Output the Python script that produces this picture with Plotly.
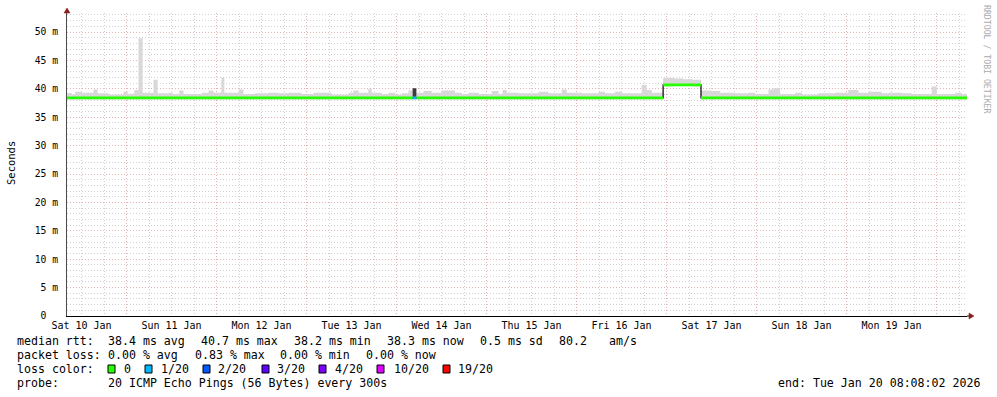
import plotly.graph_objects as go
import pandas as pd

# ---------------- data ----------------
day0 = pd.Timestamp("2026-01-10 00:00:00")
start_time = pd.Timestamp("2026-01-10 08:08:02")
end_time = pd.Timestamp("2026-01-20 08:08:02")

day_labels = ["Sat 10 Jan", "Sun 11 Jan", "Mon 12 Jan", "Tue 13 Jan", "Wed 14 Jan",
              "Thu 15 Jan", "Fri 16 Jan", "Sat 17 Jan", "Sun 18 Jan", "Mon 19 Jan"]
day_label_times = ["2026-01-10 12:00", "2026-01-11 12:00", "2026-01-12 12:00",
                   "2026-01-13 12:00", "2026-01-14 12:00", "2026-01-15 12:00",
                   "2026-01-16 12:00", "2026-01-17 12:00", "2026-01-18 12:00",
                   "2026-01-19 12:00"]

y_tick_values = [0, 5, 10, 15, 20, 25, 30, 35, 40, 45, 50]
y_tick_labels = ["0\u00a0\u00a0", "5 m", "10 m", "15 m", "20 m", "25 m",
                 "30 m", "35 m", "40 m", "45 m", "50 m"]

# smoke (spread of pings), step segments: start hour since Sat 10 Jan 00:00, low, high (ms)
smoke_hours = [8.0, 9.4, 10.3, 12.1, 15.2, 16.3, 19.2, 23.2, 24.3, 26.1, 27.2, 28.3,
               31.2, 32.3, 35.2, 36.3, 38.1, 39.2, 44.1, 45.9, 47.2, 49.3, 50.1, 53.9,
               55.2, 58.3, 61.9, 64.5, 67.2, 70.7, 73.9, 78.7, 83.2, 84.5, 85.9, 88.5,
               89.4, 92.1, 93.9, 95.7, 97.4, 99.2, 100.3, 101.3, 103.2, 105.4, 108.1,
               111.6, 113.4, 115.2, 117.9, 121.4, 123.2, 124.3, 125.4, 128.5, 133.9,
               136.5, 140.1, 141.4, 145.4, 149.9, 151.6, 154.3, 156.1, 161.4, 162.7,
               164.1, 167.1, 170.0, 172.5, 175.0, 177.2, 180.0, 182.3, 186.3, 189.9,
               191.6, 195.2, 196.5, 198.3, 202.3, 204.1, 208.5, 213.0, 216.5, 219.2,
               221.9, 225.4, 227.2, 230.7, 233.4, 238.7, 240.1, 245.0, 246.7]
smoke_high = [39.26, 39.0, 39.5, 39.3, 39.9, 39.2, 39.0, 39.5, 39.15, 39.8, 48.9, 39.3,
              41.6, 39.2, 39.3, 39.1, 39.7, 39.1, 39.3, 39.7, 39.3, 42.0, 39.3, 39.9,
              39.1, 39.2, 39.3, 39.2, 39.3, 39.1, 39.3, 39.0, 39.3, 39.7, 39.3, 40.0,
              39.3, 39.1, 39.3, 39.0, 39.2, 39.7, 40.1, 39.3, 39.6, 39.3, 39.7,
              39.3, 39.1, 39.3, 39.1, 39.6, 39.1, 39.8, 39.3, 39.2, 39.5,
              39.2, 39.9, 39.3, 39.2, 39.5, 39.2, 39.5, 39.2, 40.7, 39.8,
              39.3, 41.9, 41.8, 41.7, 41.6, 39.7, 39.6, 39.3, 39.2, 39.3,
              39.1, 39.9, 40.1, 39.1, 39.3, 39.0, 39.2, 39.3, 39.8, 39.3,
              39.5, 39.2, 39.3, 39.2, 39.1, 40.4, 39.1, 39.3, 39.1]
smoke_low = [38.1] * 68 + [40.4, 40.5, 40.5, 40.4] + [38.1] * 24

# dense smoke block (dark) around the 1/20 loss sample
dark_hours = [100.3, 101.3]
dark_low = 38.6
dark_high = 40.1

# median rtt step segments: start hour, value (ms), loss level index
median_hours = [8.0, 100.3, 101.3, 167.1, 177.2]
median_values = [38.4, 38.4, 38.4, 40.7, 38.4]
median_loss = [0, 1, 0, 0, 0]

loss_labels = ["0", "1/20", "2/20", "3/20", "4/20", "10/20", "19/20"]
loss_colors = ["#26ff00", "#00b8ff", "#0059ff", "#5e00ff", "#7e00ff", "#dd00ff", "#ff0000"]

stats_median = ["38.4 ms avg", "40.7 ms max", "38.2 ms min", "38.3 ms now", "0.5 ms sd", "80.2", "am/s"]
stats_loss = ["0.00 % avg", "0.83 % max", "0.00 % min", "0.00 % now"]
probe_text = "20 ICMP Echo Pings (56 Bytes) every 300s"
end_text = "end: Tue Jan 20 08:08:02 2026"

# ---------------- layout helpers ----------------
W, H = 997, 397
PL, PT, PW, PH = 67, 13, 900, 303
MONO = "DejaVu Sans Mono"


def px(x):
    return (x - PL) / PW


def py(y):
    return (PT + PH - y) / PH


def t(h):
    return day0 + pd.Timedelta(hours=h)


fig = go.Figure()

# smoke
sx = [t(h) for h in smoke_hours] + [end_time]
fig.add_trace(go.Scatter(x=sx, y=smoke_low + [smoke_low[-1]], mode="lines",
                         line=dict(width=0, shape="hv", color="rgba(0,0,0,0)"),
                         hoverinfo="skip", showlegend=False))
fig.add_trace(go.Scatter(x=sx, y=smoke_high + [smoke_high[-1]], mode="lines",
                         line=dict(width=0, shape="hv", color="rgba(0,0,0,0)"),
                         fill="tonexty", fillcolor="#d8d8d8",
                         hoverinfo="skip", showlegend=False))

# dark smoke block
fig.add_trace(go.Scatter(x=[t(dark_hours[0]), t(dark_hours[1]), t(dark_hours[1]), t(dark_hours[0]), t(dark_hours[0])],
                         y=[dark_low, dark_low, dark_high, dark_high, dark_low],
                         mode="lines", fill="toself", fillcolor="#3c3c3c",
                         line=dict(width=0, color="#3c3c3c"),
                         hoverinfo="skip", showlegend=False))

# median: black step connector
mx = [t(h) for h in median_hours] + [end_time]
fig.add_trace(go.Scatter(x=mx, y=median_values + [median_values[-1]], mode="lines",
                         line=dict(width=1.2, shape="hv", color="#000000"),
                         hoverinfo="skip", showlegend=False))

# median: coloured horizontal segments by loss level
for lvl, col in enumerate(loss_colors):
    xs, ys = [], []
    for i, h in enumerate(median_hours):
        if median_loss[i] != lvl:
            continue
        h_end = mx[i + 1]
        xs += [t(h), h_end, None]
        ys += [median_values[i], median_values[i], None]
    if xs:
        fig.add_trace(go.Scatter(x=xs, y=ys, mode="lines",
                                 line=dict(width=2.6, color=col),
                                 hoverinfo="skip", showlegend=False))

# invisible trace for the label axis
fig.add_trace(go.Scatter(x=[start_time, end_time], y=[0, 0], xaxis="x2", mode="markers",
                         marker=dict(opacity=0), hoverinfo="skip", showlegend=False))

grid_major = "#e6b3b3"
grid_minor = "#d0d0d0"
DASH = "1px,2px"

fig.update_layout(
    width=W, height=H,
    margin=dict(l=PL, r=W - PL - PW, t=PT, b=H - PT - PH),
    paper_bgcolor="white", plot_bgcolor="white",
    showlegend=False,
    xaxis=dict(type="date", range=[start_time, end_time], showgrid=True,
               gridcolor=grid_major, griddash=DASH, gridwidth=1,
               tick0="2026-01-10", dtick=86400000, showticklabels=False, ticks="",
               minor=dict(dtick=6 * 3600000, tick0="2026-01-10", showgrid=True,
                          gridcolor=grid_minor, griddash=DASH, gridwidth=1),
               showline=True, linecolor="#000000", linewidth=1, zeroline=False),
    xaxis2=dict(type="date", range=[start_time, end_time], overlaying="x", anchor="y",
                side="bottom", showgrid=False, tickmode="array",
                tickvals=day_label_times, ticktext=day_labels, ticks="",
                ticklabelstandoff=2,
                tickfont=dict(family=MONO, size=10, color="#000000"), showline=False),
    yaxis=dict(range=[0, 53.35], tickmode="array", tickvals=y_tick_values,
               ticktext=y_tick_labels, showgrid=True, gridcolor=grid_major,
               griddash=DASH, gridwidth=1,
               minor=dict(dtick=1, tick0=0, showgrid=True, gridcolor=grid_minor,
                          griddash=DASH, gridwidth=1),
               showline=True, linecolor="#4a4a4a", linewidth=1, zeroline=False,
               ticks="", ticklabelstandoff=6,
               tickfont=dict(family=MONO, size=9.7, color="#000000")),
)

ann = []
shapes = []
FS = 11.6


def text(x, y, s, anchor="left", size=FS, color="#000000", angle=0, yanchor="middle"):
    ann.append(dict(x=px(x), y=py(y), xref="paper", yref="paper", text=s,
                    showarrow=False, xanchor=anchor, yanchor=yanchor, textangle=angle,
                    borderpad=0, font=dict(family=MONO, size=size, color=color)))


# y axis title
text(11, 163, "Seconds", anchor="center", size=10.5, angle=-90)
# watermark
text(987, 60, "RRDTOOL / TOBI OETIKER", anchor="center", size=8.2, color="#ababab", angle=90)

# legend lines
text(16, 341, "median rtt:")
for s, xx in zip(stats_median, [107, 200, 293, 386, 479, 558, 608]):
    text(xx, 341, s)
text(16, 355, "packet loss:")
for s, xx in zip(stats_loss, [107, 194, 279, 365]):
    text(xx, 355, s)
text(16, 369, "loss color:")
for lab, col, sxp, lxp in zip(loss_labels, loss_colors,
                              [108, 145, 203, 262, 319, 377, 443],
                              [123, 160, 217, 276, 334, 393, 457]):
    shapes.append(dict(type="rect", xref="paper", yref="paper",
                       x0=px(sxp), x1=px(sxp + 7), y0=py(373), y1=py(365),
                       fillcolor=col, line=dict(color="#000000", width=1)))
    text(lxp, 369, lab)
text(16, 383, "probe:")
text(107, 383, probe_text)
text(981, 383, end_text, anchor="right")

# axis arrows and extension
arrow_col = "#8b1c1c"
shapes.append(dict(type="line", xref="paper", yref="paper", x0=px(967), x1=px(970),
                   y0=py(316), y1=py(316), line=dict(color="#000000", width=1)))
shapes.append(dict(type="path", xref="paper", yref="paper",
                   path=f"M {px(969)} {py(313)} L {px(974)} {py(316)} L {px(969)} {py(319)} Z",
                   fillcolor=arrow_col, line=dict(color=arrow_col, width=0.5)))
shapes.append(dict(type="path", xref="paper", yref="paper",
                   path=f"M {px(64)} {py(13)} L {px(67)} {py(8)} L {px(70)} {py(13)} Z",
                   fillcolor=arrow_col, line=dict(color=arrow_col, width=0.5)))

fig.update_layout(annotations=ann, shapes=shapes)
fig.write_html("out.html")
